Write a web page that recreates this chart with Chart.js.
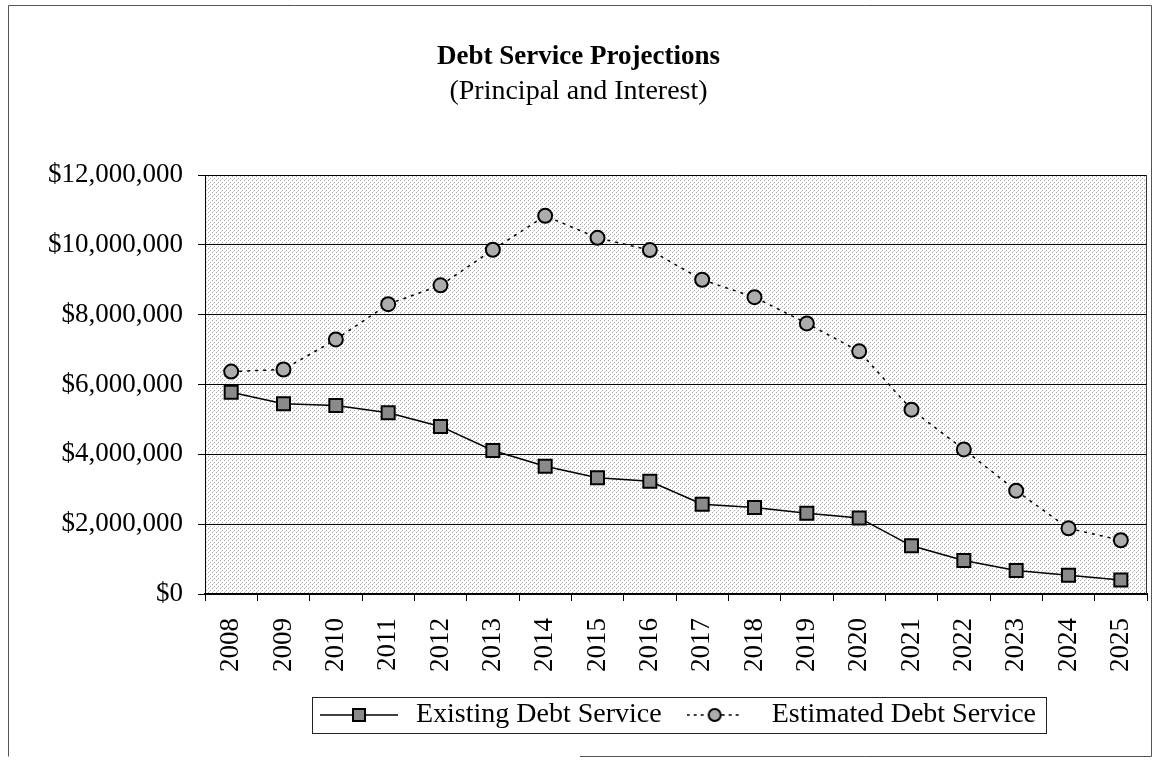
<!DOCTYPE html>
<html>
<head>
<meta charset="utf-8">
<script src="https://cdn.jsdelivr.net/npm/chart.js@4"></script>
<style>
  body { margin: 0; background: #fff; }
  canvas { display: block; }
</style>
</head>
<body>
<canvas id="debtChart" width="1159" height="760"></canvas>
<script>
// Data (dollars)
const years = ['2008', '2009', '2010', '2011', '2012', '2013', '2014', '2015', '2016',
               '2017', '2018', '2019', '2020', '2021', '2022', '2023', '2024', '2025'];
const existingDebt = [5780000, 5450000, 5400000, 5190000, 4800000, 4110000, 3660000, 3330000, 3230000,
                      2570000, 2480000, 2310000, 2180000, 1380000, 960000, 670000, 540000, 400000];
const estimatedDebt = [6370000, 6430000, 7290000, 8300000, 8840000, 9860000, 10830000, 10200000, 9850000,
                       9000000, 8500000, 7750000, 6950000, 5280000, 4140000, 2960000, 1880000, 1540000];
const yTicks = [0, 2000000, 4000000, 6000000, 8000000, 10000000, 12000000];

const serif = "'Liberation Serif', 'Times New Roman', serif";

// stippled grey fill used behind the plot
const stipple = document.createElement('canvas');
stipple.width = 4; stipple.height = 4;
(function () {
    const g = stipple.getContext('2d');
    g.fillStyle = '#fff';
    g.fillRect(0, 0, 4, 4);
    g.fillStyle = '#a6a6a6';
    g.fillRect(0, 0, 1, 1);
    g.fillRect(2, 2, 1, 1);
    g.fillStyle = '#dadada';
    g.fillRect(1, 3, 1, 1);
})();

// little line + marker samples for the legend
function legendSample(kind, w) {
    const c = document.createElement('canvas');
    c.width = w; c.height = 20;
    const g = c.getContext('2d');
    g.strokeStyle = '#000';
    g.lineWidth = 1.5;
    const mid = w / 2;
    if (kind === 'square') {
        g.beginPath(); g.moveTo(0, 10); g.lineTo(w, 10); g.stroke();
        g.fillStyle = '#8a8a8a';
        g.fillRect(mid - 6, 4, 12, 12);
        g.lineWidth = 2;
        g.strokeRect(mid - 6, 4, 12, 12);
    } else {
        g.setLineDash([3, 4]);
        g.beginPath(); g.moveTo(0, 10); g.lineTo(w, 10); g.stroke();
        g.setLineDash([]);
        g.beginPath(); g.arc(mid, 10, 6, 0, Math.PI * 2);
        g.fillStyle = '#adadad'; g.fill();
        g.lineWidth = 2; g.stroke();
    }
    return c;
}
const legendSamples = [legendSample('square', 78), legendSample('circle', 56)];

const chartDecor = {
    id: 'chartDecor',
    beforeDraw(chart) {
        const { ctx, chartArea: a } = chart;
        ctx.save();
        ctx.fillStyle = '#fff';
        ctx.fillRect(0, 0, chart.width, chart.height);
        ctx.fillStyle = ctx.createPattern(stipple, 'repeat');
        ctx.fillRect(a.left, a.top, a.right - a.left, a.bottom - a.top);
        ctx.restore();
    },
    afterLayout(chart) {
        // centre the legend under the plot rather than the whole canvas
        chart.legend.left = chart.chartArea.left;
        chart.legend.right = chart.chartArea.right;
    },
    beforeDatasetsDraw(chart) {
        const { ctx, chartArea: a } = chart;
        ctx.save();
        ctx.strokeStyle = '#333';
        ctx.lineWidth = 1;
        ctx.beginPath();
        ctx.moveTo(Math.round(a.right) - 0.5, a.top);
        ctx.lineTo(Math.round(a.right) - 0.5, a.bottom);
        ctx.stroke();
        ctx.restore();
    },
    afterDraw(chart) {
        const ctx = chart.ctx;
        const hb = chart.legend.legendHitBoxes;
        ctx.save();
        ctx.strokeStyle = '#222';
        ctx.lineWidth = 1;
        if (hb && hb.length === 2) {
            const bw = chart.options.plugins.legend.labels.pointStyleWidth;
            const left = Math.round(hb[0].left + bw / 2 - legendSamples[0].width / 2 - 8) + 0.5;
            const right = Math.round(hb[1].left + hb[1].width + 10) + 0.5;
            const top = Math.round(hb[0].top - 4) + 0.5;
            ctx.strokeRect(left, top, right - left, 36);
        }
        // outer frame of the scanned figure
        ctx.strokeStyle = '#555';
        ctx.beginPath();
        ctx.moveTo(580, 756.5);
        ctx.lineTo(1151.5, 756.5);
        ctx.lineTo(1151.5, 5.5);
        ctx.lineTo(8.5, 5.5);
        ctx.lineTo(8.5, 756.5);
        ctx.stroke();
        ctx.restore();
    }
};

const ctx = document.getElementById('debtChart').getContext('2d');
new Chart(ctx, {
    type: 'line',
    data: {
        labels: years,
        datasets: [{
            label: 'Existing Debt Service',
            data: existingDebt,
            borderColor: '#000',
            borderWidth: 1.5,
            pointStyle: 'rect',
            pointRadius: 9.2,
            pointBackgroundColor: '#8a8a8a',
            pointBorderColor: '#000',
            pointBorderWidth: 2,
            tension: 0
        }, {
            label: 'Estimated Debt Service',
            data: estimatedDebt,
            borderColor: '#000',
            borderWidth: 1.5,
            borderDash: [3, 5],
            pointStyle: 'circle',
            pointRadius: 7,
            pointBackgroundColor: '#adadad',
            pointBorderColor: '#000',
            pointBorderWidth: 2,
            tension: 0
        }]
    },
    options: {
        responsive: false,
        animation: false,
        layout: { padding: { top: 5, left: 10, right: 12, bottom: 21 } },
        plugins: {
            title: {
                display: true,
                text: 'Debt Service Projections',
                color: '#000',
                font: { family: serif, size: 27, weight: 'bold' },
                padding: { top: 36, bottom: 0 }
            },
            subtitle: {
                display: true,
                text: '(Principal and Interest)',
                color: '#000',
                font: { family: serif, size: 28, weight: 'normal' },
                padding: { top: 1, bottom: 67 }
            },
            legend: {
                position: 'bottom',
                labels: {
                    usePointStyle: true,
                    pointStyleWidth: 86,
                    padding: 10,
                    color: '#000',
                    font: { family: serif, size: 28 },
                    generateLabels(chart) {
                        return Chart.defaults.plugins.legend.labels.generateLabels(chart)
                            .map((item, i) => Object.assign(item, { pointStyle: legendSamples[i] }));
                    }
                }
            },
            tooltip: { enabled: false }
        },
        scales: {
            x: {
                offset: true,
                grid: { offset: true, drawOnChartArea: false, tickLength: 7, color: '#000' },
                border: { color: '#000', width: 2 },
                ticks: {
                    color: '#000',
                    font: { family: serif, size: 27 },
                    minRotation: 90,
                    maxRotation: 90,
                    autoSkip: false,
                    padding: 17
                },
                afterFit(scale) {
                    scale.height = 97;
                    scale.paddingLeft = 0;
                    scale.paddingRight = 0;
                }
            },
            y: {
                min: 0,
                max: 12000000,
                afterBuildTicks(scale) { scale.ticks = yTicks.map(v => ({ value: v })); },
                grid: { color: '#000', lineWidth: 1, tickLength: 7 },
                border: { color: '#000', width: 1 },
                ticks: {
                    color: '#000',
                    font: { family: serif, size: 27 },
                    padding: 15,
                    callback: v => '$' + v.toLocaleString('en-US')
                },
                afterFit(scale) { scale.width = 195; }
            }
        }
    },
    plugins: [chartDecor]
});
</script>
</body>
</html>
